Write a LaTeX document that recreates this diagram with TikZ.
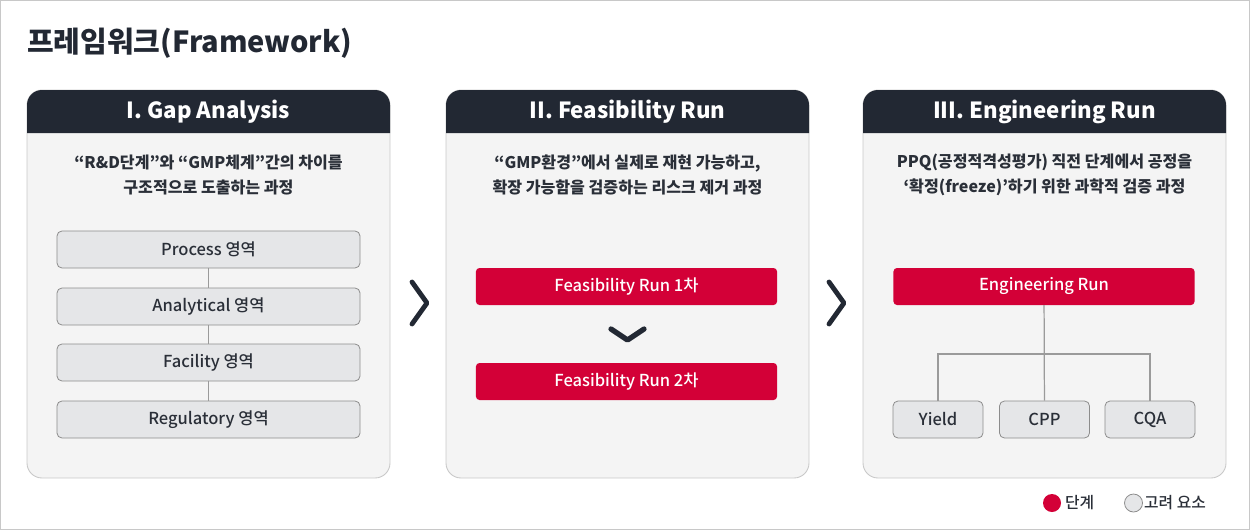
\documentclass[tikz,border=0pt]{standalone}
\usepackage{fontspec}
\setmainfont{Noto Sans CJK KR}
\newfontfamily\krmedium{Noto Sans CJK KR Medium}
\usetikzlibrary{positioning}

\definecolor{headdark}{HTML}{222833}
\definecolor{textdark}{HTML}{2A2F38}
\definecolor{stepred}{HTML}{D30037}
\definecolor{panelbg}{HTML}{F4F4F4}
\definecolor{panelline}{HTML}{C8C8C8}
\definecolor{itemfill}{HTML}{E5E6E8}
\definecolor{itemline}{HTML}{8C8C8C}
\definecolor{linkgray}{HTML}{9A9A9A}

\begin{document}
\begin{tikzpicture}[x=0.04cm, y=-0.04cm,
    panelbody/.style={fill=panelbg, draw=panelline, line width=1pt, rounded corners=0.6cm},
    headtxt/.style={text=white, font=\fontsize{25.3pt}{28pt}\selectfont\bfseries},
    desctxt/.style={text=textdark, align=center, font=\fontsize{18.3pt}{28.5pt}\selectfont\bfseries},
    itembox/.style={draw=itemline, fill=itemfill, line width=0.9pt, rounded corners=0.2cm,
        minimum height=1.48cm, inner sep=0pt, text=textdark, font=\fontsize{18.8pt}{20pt}\krmedium},
    stepbox/.style={fill=stepred, rounded corners=0.14cm, minimum width=12.04cm,
        minimum height=1.48cm, inner sep=0pt, text=white, font=\fontsize{18.8pt}{20pt}\krmedium},
    link/.style={draw=linkgray, line width=1.4pt},
    chev/.style={draw=headdark, line width=5.5pt, line cap=round, line join=round},
    legtxt/.style={anchor=west, text=textdark, font=\fontsize{18pt}{20pt}\krmedium}
]
    \useasboundingbox (0,0) rectangle (1250,530);
    % Frame
    \draw[panelline, line width=1.2pt] (0.5,0.5) rectangle (1249.5,529.5);

    % Title
    \node[anchor=west, inner sep=0pt, text=headdark, font=\fontsize{33pt}{36pt}\selectfont\bfseries]
        (title) at (27,43) {프레임워크(Framework)};

    % Panels
    \path[panelbody] (27,90) rectangle (390,478);
    \path[panelbody] (446,90) rectangle (809,478);
    \path[panelbody] (863,90) rectangle (1226,478);
    \fill[headdark] (27,133) [rounded corners=0.6cm] -- (27,90) -- (390,90) [sharp corners] -- (390,133) -- cycle;
    \fill[headdark] (446,133) [rounded corners=0.6cm] -- (446,90) -- (809,90) [sharp corners] -- (809,133) -- cycle;
    \fill[headdark] (863,133) [rounded corners=0.6cm] -- (863,90) -- (1226,90) [sharp corners] -- (1226,133) -- cycle;

    % Headers
    \node[headtxt] (head1) at (208.5,112) {I. Gap Analysis};
    \node[headtxt] (head2) at (627.5,112) {II. Feasibility Run};
    \node[headtxt] (head3) at (1044.5,112) {III. Engineering Run};

    % Descriptions
    \node[desctxt] (desc1) at (208.5,175) {“R\&D단계”와 “GMP체계”간의 차이를\\구조적으로 도출하는 과정};
    \node[desctxt] (desc2) at (627.5,175) {“GMP환경”에서 실제로 재현 가능하고,\\확장 가능함을 검증하는 리스크 제거 과정};
    \node[desctxt] (desc3) at (1044.5,175) {PPQ(공정적격성평가) 직전 단계에서 공정을\\‘확정(freeze)’하기 위한 과학적 검증 과정};

    % Gap Analysis areas
    \node[itembox, minimum width=12.12cm] (process) at (208.5,249.5) {Process 영역};
    \node[itembox, minimum width=12.12cm] (analytical) at (208.5,306.5) {Analytical 영역};
    \node[itembox, minimum width=12.12cm] (facility) at (208.5,362.5) {Facility 영역};
    \node[itembox, minimum width=12.12cm] (regulatory) at (208.5,419.5) {Regulatory 영역};
    \draw[link] (process) -- (analytical);
    \draw[link] (analytical) -- (facility);
    \draw[link] (facility) -- (regulatory);

    % Feasibility steps
    \node[stepbox] (feas1) at (626.5,286.5) {Feasibility Run 1차};
    \node[stepbox] (feas2) at (626.5,381.5) {Feasibility Run 2차};
    \draw[chev, line width=6pt] (611,329) -- (627.5,340) -- (644,329);

    % Engineering run
    \node[stepbox] (eng) at (1044,286.5) {Engineering Run};
    \node[itembox, minimum width=3.6cm] (yield) at (938,419.5) {Yield};
    \node[itembox, minimum width=3.6cm] (cpp) at (1044.5,419.5) {CPP};
    \node[itembox, minimum width=3.6cm] (cqa) at (1150,419.5) {CQA};
    \coordinate (split) at (1044.5,354);
    \draw[link] (eng) -- (cpp);
    \draw[link] (yield) |- (split) -| (cqa);

    % Chevrons between panels
    \draw[chev] (412,282) -- (427,303) -- (412,324);
    \draw[chev] (829,282) -- (844,303) -- (829,324);

    % Legend
    \fill[stepred] (1052,503) circle (0.36cm);
    \node[legtxt] (legstep) at (1062,503) {단계};
    \draw[itemline, fill=itemfill, line width=0.9pt] (1133.5,503) circle (0.36cm);
    \node[legtxt] (legitem) at (1141,503) {고려 요소};
\end{tikzpicture}
\end{document}
